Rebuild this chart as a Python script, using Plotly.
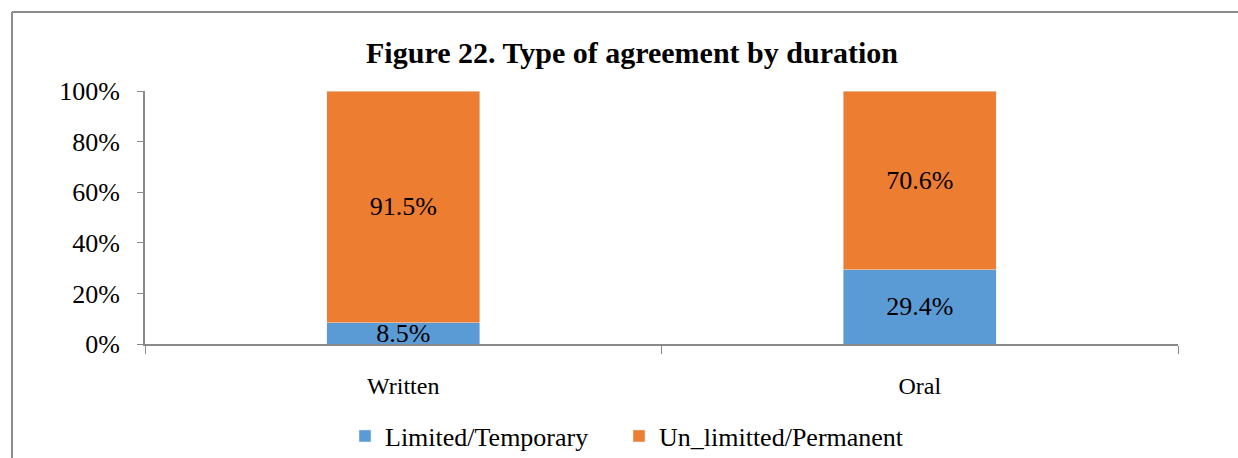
import plotly.graph_objects as go

categories = ["Written", "Oral"]
limited = [0.085, 0.294]
unlimited = [0.915, 0.706]
limited_labels = ["8.5%", "29.4%"]
unlimited_labels = ["91.5%", "70.6%"]
series_names = ["Limited/Temporary", "Un_limitted/Permanent"]
y_ticks = [0, 0.2, 0.4, 0.6, 0.8, 1.0]
y_tick_labels = ["0%", "20%", "40%", "60%", "80%", "100%"]

FONT = "Liberation Serif, Times New Roman, serif"

fig = go.Figure()
fig.add_trace(go.Bar(
    x=categories, y=limited, name=series_names[0], marker_color="#5B9BD5",
    text=limited_labels, textposition="inside", insidetextanchor="middle",
    constraintext="none", textfont=dict(family=FONT, size=26, color="black"),
    width=0.296, hoverinfo="skip", legend="legend"))
fig.add_trace(go.Bar(
    x=categories, y=unlimited, name=series_names[1], marker_color="#ED7D31",
    text=unlimited_labels, textposition="inside", insidetextanchor="middle",
    constraintext="none", textfont=dict(family=FONT, size=26, color="black"),
    width=0.296, hoverinfo="skip", legend="legend2"))

L, R, T, B = 145, 60, 91, 114
W, H = 1238, 458
pw, ph = W - L - R, H - T - B

leg_common = dict(orientation="h", yanchor="middle", xanchor="left",
                  y=(H - B - 436) / ph,
                  font=dict(family=FONT, size=26, color="black"),
                  itemwidth=30, bgcolor="rgba(0,0,0,0)")

bx0 = (12 - L) / pw
bx1 = (W + 10 - L) / pw
by_top = 1 + (T - 12) / ph
by_bot = -(B + 10) / ph
border = dict(color="#8c8c8c", width=2)

fig.update_layout(
    width=W, height=H, barmode="stack",
    margin=dict(l=L, r=R, t=T, b=B, autoexpand=False),
    paper_bgcolor="white", plot_bgcolor="white",
    font=dict(family=FONT, color="black"),
    uniformtext=dict(minsize=26, mode="show"),
    title=dict(text="<b>Figure 22. Type of agreement by duration</b>",
               font=dict(family=FONT, size=30, color="black"),
               x=632 / W, xref="container", xanchor="center",
               y=1 - 52 / H, yref="container", yanchor="middle"),
    showlegend=True,
    legend=dict(x=(345 - L) / pw, **leg_common),
    legend2=dict(x=(619 - L) / pw, **leg_common),
    xaxis=dict(showline=True, linecolor="#898989", linewidth=2,
               ticks="outside", tickson="boundaries", ticklen=8,
               tickcolor="#898989", tickwidth=1, automargin=False,
               tickfont=dict(family=FONT, size=24, color="black"),
               ticklabelstandoff=19, showgrid=False, zeroline=False),
    yaxis=dict(range=[0, 1], tickvals=y_ticks, ticktext=y_tick_labels,
               showline=True, linecolor="#898989", linewidth=2,
               ticks="outside", ticklen=6, tickcolor="#898989", tickwidth=1,
               automargin=False,
               tickfont=dict(family=FONT, size=26, color="black"),
               ticklabelstandoff=12, showgrid=False, zeroline=False),
    shapes=[
        dict(type="line", xref="paper", yref="paper",
             x0=bx0, x1=bx1, y0=by_top, y1=by_top, line=border, layer="below"),
        dict(type="line", xref="paper", yref="paper",
             x0=bx0, x1=bx0, y0=by_bot, y1=by_top, line=border, layer="below"),
    ],
)

fig.write_html("out.html", config={"displayModeBar": False},
               post_script="document.body.style.margin='0';document.body.style.overflow='hidden';")
